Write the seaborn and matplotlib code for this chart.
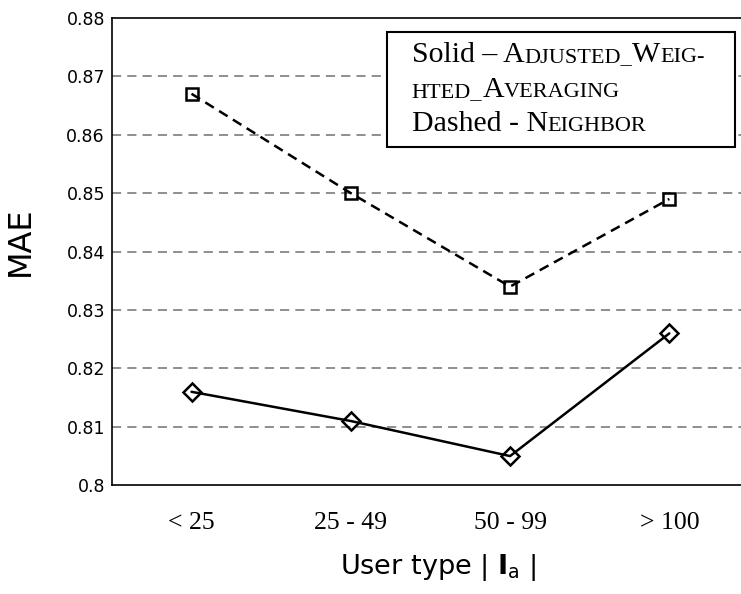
import pandas as pd
import matplotlib.pyplot as plt
import seaborn as sns
from matplotlib.offsetbox import TextArea, HPacker, VPacker, AnchoredOffsetbox, DrawingArea

categories = ["< 25", "25 - 49", "50 - 99", "> 100"]
neighbor = [0.867, 0.850, 0.834, 0.849]
adjusted = [0.816, 0.811, 0.805, 0.826]
yticks = [0.80, 0.81, 0.82, 0.83, 0.84, 0.85, 0.86, 0.87, 0.88]
ytick_labels = ["0.8", "0.81", "0.82", "0.83", "0.84", "0.85", "0.86", "0.87", "0.88"]

df = pd.DataFrame({
    "x": list(range(len(categories))) * 2,
    "MAE": neighbor + adjusted,
    "method": ["NEIGHBOR"] * 4 + ["ADJUSTED_WEIGHTED_AVERAGING"] * 4,
})

sns.set_style("white")
plt.rcParams["text.color"] = "black"
plt.rcParams["axes.labelcolor"] = "black"
plt.rcParams["xtick.color"] = "black"
plt.rcParams["ytick.color"] = "black"

fig = plt.figure(figsize=(7.41, 5.94), dpi=100)
ax = fig.add_axes([0.151, 0.183, 0.849, 0.787])

# dashed grey grid
for ys in yticks[1:-1]:
    ax.axhline(ys, color="#707070", lw=1.1, ls=(0, (6, 4)), zorder=0)

sns.lineplot(
    data=df[df["method"] == "NEIGHBOR"], x="x", y="MAE",
    color="black", lw=1.8, ax=ax, marker="s", markersize=9,
    markerfacecolor="none", markeredgecolor="black", markeredgewidth=1.8,
    linestyle=(0, (4, 2.5)), legend=False,
)
sns.lineplot(
    data=df[df["method"] == "ADJUSTED_WEIGHTED_AVERAGING"], x="x", y="MAE",
    color="black", lw=1.8, ax=ax, marker="D", markersize=9,
    markerfacecolor="none", markeredgecolor="black", markeredgewidth=1.8,
    legend=False,
)

ax.set_xlim(-0.5, 3.45)
ax.set_ylim(0.80, 0.88)
ax.set_xticks(range(len(categories)))
ax.set_xticklabels(categories, fontfamily="Liberation Serif", fontsize=18.5)
ax.set_yticks(yticks)
ax.set_yticklabels(ytick_labels, fontfamily="DejaVu Sans", fontsize=12.5)
ax.tick_params(axis="x", direction="in", length=7, width=0.8, pad=19, colors="black")
ax.tick_params(axis="y", direction="out", length=3, width=0.8, pad=2, colors="black")
ax.spines["right"].set_visible(False)
for s in ["left", "bottom", "top"]:
    ax.spines[s].set_color("black")
    ax.spines[s].set_linewidth(1.2)

ax.set_ylabel("MAE", fontfamily="DejaVu Sans", fontsize=23, color="black")
ax.yaxis.set_label_coords(-0.121, 0.522)
ax.set_xlabel(r"User type | $\mathbf{I}_{\mathrm{a}}$ |", fontfamily="DejaVu Sans",
              fontsize=19.5, color="black")
ax.xaxis.set_label_coords(0.518, -0.142)


def sc(parts):
    boxes = []
    for txt, big in parts:
        boxes.append(TextArea(txt, textprops=dict(fontfamily="Liberation Serif",
                                                   fontsize=21.5 if big else 16,
                                                   color="black")))
    return HPacker(children=boxes, align="baseline", pad=0, sep=0)


lines = [
    sc([("Solid \u2013 A", True), ("DJUSTED_", False), ("W", True), ("EIG-", False)]),
    sc([("HTED_", False), ("A", True), ("VERAGING", False)]),
    sc([("Dashed - N", True), ("EIGHBOR", False)]),
]
textcol = VPacker(children=lines, align="left", pad=0, sep=6)
box = HPacker(children=[DrawingArea(10, 0), textcol, DrawingArea(14, 0)],
              align="center", pad=0, sep=0)
anch = AnchoredOffsetbox(loc="upper right", child=box, pad=0.75, borderpad=0,
                         frameon=True, bbox_to_anchor=(0.990, 0.970),
                         bbox_transform=ax.transAxes)
anch.patch.set_edgecolor("black")
anch.patch.set_linewidth(1.5)
anch.patch.set_boxstyle("square,pad=0")
ax.add_artist(anch)

fig.savefig("out.png", dpi=100)
